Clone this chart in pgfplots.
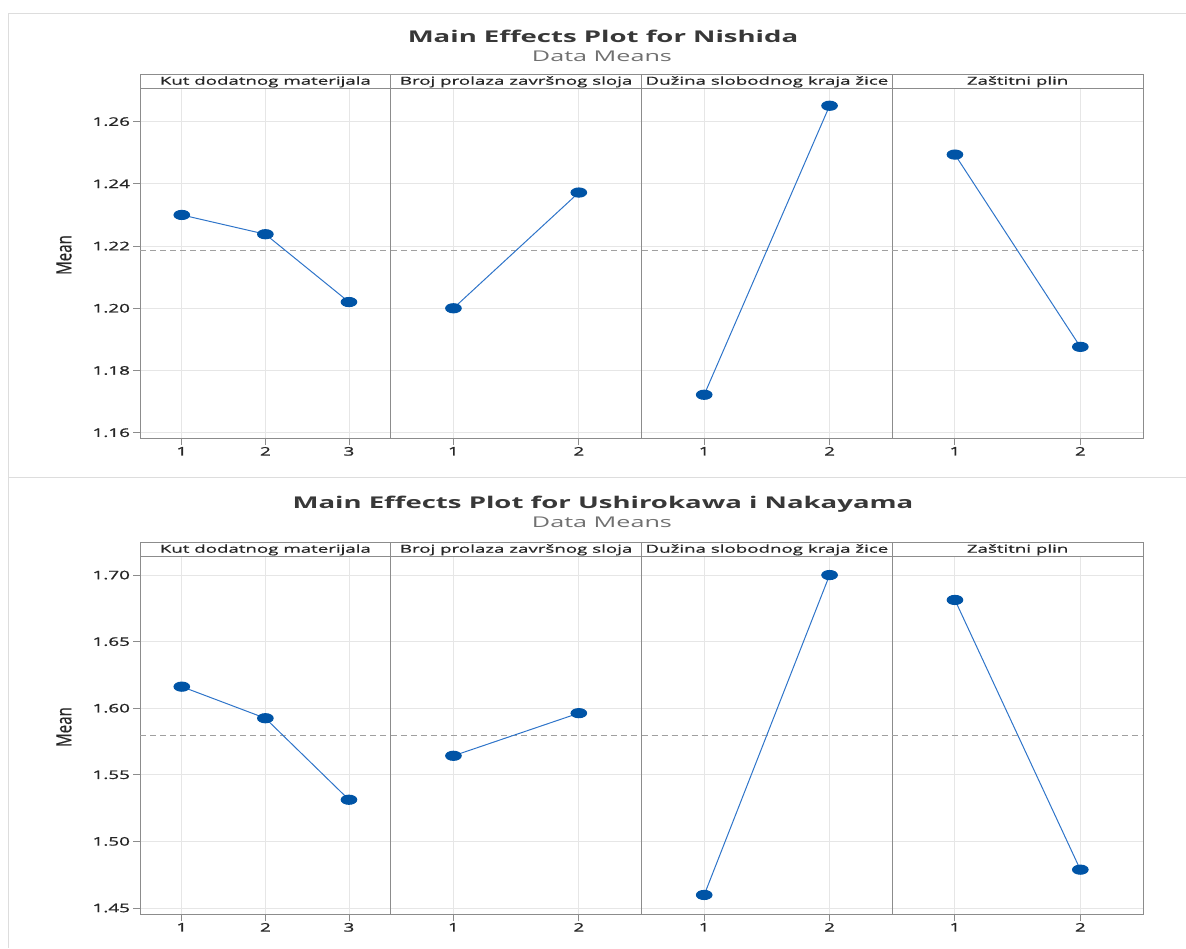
\documentclass[border=0pt]{standalone}
\usepackage{fontspec}
\setmainfont{Open Sans}[FakeStretch=1.7]
\newfontfamily\meanfont{Open Sans}[FakeStretch=0.72, FakeBold=0.6]
\newfontfamily\tickfont{Open Sans}[FakeStretch=1.6, FakeBold=1.3]
\newfontfamily\stripfont{Open Sans}[FakeStretch=1.7, FakeBold=0.7]
\usepackage{pgfplots}
\pgfplotsset{compat=1.18}
\definecolor{axgray}{HTML}{8C8C8C}
\definecolor{gridgray}{HTML}{E6E6E6}
\definecolor{meangray}{HTML}{A0A0A0}
\definecolor{lineblue}{HTML}{2E74C9}
\definecolor{markblue}{HTML}{0054A6}
\definecolor{framegray}{HTML}{DDDDDD}
\definecolor{titlegray}{HTML}{383838}
\definecolor{subgray}{HTML}{707070}
\definecolor{txt}{HTML}{262626}

\pgfplotsset{
  mep/.style={
    scale only axis, width=250.75pt, xmin=0.5,
    clip=false,
    axis line style={draw=axgray, line width=1pt},
    grid=major, major grid style={draw=gridgray, line width=0.9pt},
    tick align=outside, major tick length=7pt,
    tick style={draw=axgray, line width=0.9pt},
    xtick pos=left, ytick pos=left,
    xticklabel style={font=\tickfont\fontsize{11.8}{13}\selectfont, text=txt, yshift=1.5pt},
    yticklabel style={font=\tickfont\fontsize{11.8}{13}\selectfont, text=txt, xshift=0.5pt},
  },
  three/.style={xmax=3.5, xtick={1,2,3}, xticklabels={1,2,3}},
  two/.style={xmax=2.5, xtick={1,2}, xticklabels={1,2}},
  upper/.style={height=350pt, ymin=1.1583, ymax=1.2708,
    ytick={1.16,1.18,1.20,1.22,1.24,1.26},
    yticklabels={1.16,1.18,1.20,1.22,1.24,1.26}},
  lower/.style={height=358pt, ymin=1.4455, ymax=1.7143,
    ytick={1.45,1.50,1.55,1.60,1.65,1.70},
    yticklabels={1.45,1.50,1.55,1.60,1.65,1.70}},
  inner/.style={yticklabels={}, ytick style={draw=none}},
  effect/.style={lineblue, line width=1pt, mark=*, mark size=4.6pt,
    mark options={xscale=1.7, fill=markblue, draw=markblue, solid}},
  meanline/.style={meangray, line width=0.9pt, dash pattern=on 6pt off 4pt, forget plot},
}
\newcommand{\strip}[1]{%
  \draw[axgray, line width=1pt, fill=white] (rel axis cs:0,1) rectangle ([yshift=13.5pt]rel axis cs:1,1);
  \node[anchor=base, font=\stripfont\fontsize{11}{12}\selectfont, text=txt, inner sep=0pt]
    at ([yshift=3.3pt]rel axis cs:0.5,1) {#1};}

\begin{document}
\begin{tikzpicture}[x=1pt,y=1pt]
\path[use as bounding box] (0pt,0pt) rectangle (1186pt,-948pt);
\draw[framegray, line width=1pt] (1186pt,-13pt) -- (8pt,-13pt) -- (8pt,-948pt);
\draw[framegray, line width=1pt] (8pt,-477pt) -- (1186pt,-477pt);

% ---------- Top: Nishida ----------
\node[anchor=base, font=\bfseries\fontsize{16.2}{20}\selectfont, text=titlegray] at (603pt,-42pt) {Main Effects Plot for Nishida};
\node[anchor=base, font=\fontsize{14.8}{17}\selectfont, text=subgray] at (602pt,-61pt) {Data Means};
\node[rotate=90, font=\meanfont\fontsize{21}{24}\selectfont, text=txt] at (64pt,-255pt) {Mean};

\begin{axis}[mep, upper, three, at={(140pt,-438pt)}, anchor=south west]
  \addplot[meanline] coordinates {(0.5,1.2186) (3.5,1.2186)};
  \addplot[effect] coordinates {(1,1.2300) (2,1.2238) (3,1.2020)};
  \strip{Kut dodatnog materijala}
\end{axis}
\begin{axis}[mep, upper, two, inner, at={(390.75pt,-438pt)}, anchor=south west]
  \addplot[meanline] coordinates {(0.5,1.2186) (2.5,1.2186)};
  \addplot[effect] coordinates {(1,1.2000) (2,1.2372)};
  \strip{Broj prolaza završnog sloja}
\end{axis}
\begin{axis}[mep, upper, two, inner, at={(641.5pt,-438pt)}, anchor=south west]
  \addplot[meanline] coordinates {(0.5,1.2186) (2.5,1.2186)};
  \addplot[effect] coordinates {(1,1.1722) (2,1.2651)};
  \strip{Dužina slobodnog kraja žice}
\end{axis}
\begin{axis}[mep, upper, two, inner, at={(892.25pt,-438pt)}, anchor=south west]
  \addplot[meanline] coordinates {(0.5,1.2186) (2.5,1.2186)};
  \addplot[effect] coordinates {(1,1.2494) (2,1.1876)};
  \strip{Zaštitni plin}
\end{axis}

% ---------- Bottom: Ushirokawa i Nakayama ----------
\node[anchor=base, font=\bfseries\fontsize{16.2}{20}\selectfont, text=titlegray] at (603pt,-508pt) {Main Effects Plot for Ushirokawa i Nakayama};
\node[anchor=base, font=\fontsize{14.8}{17}\selectfont, text=subgray] at (602pt,-527pt) {Data Means};
\node[rotate=90, font=\meanfont\fontsize{21}{24}\selectfont, text=txt] at (64pt,-727pt) {Mean};

\begin{axis}[mep, lower, three, at={(140pt,-914pt)}, anchor=south west]
  \addplot[meanline] coordinates {(0.5,1.5799) (3.5,1.5799)};
  \addplot[effect] coordinates {(1,1.6162) (2,1.5925) (3,1.5313)};
  \strip{Kut dodatnog materijala}
\end{axis}
\begin{axis}[mep, lower, two, inner, at={(390.75pt,-914pt)}, anchor=south west]
  \addplot[meanline] coordinates {(0.5,1.5799) (2.5,1.5799)};
  \addplot[effect] coordinates {(1,1.5643) (2,1.5963)};
  \strip{Broj prolaza završnog sloja}
\end{axis}
\begin{axis}[mep, lower, two, inner, at={(641.5pt,-914pt)}, anchor=south west]
  \addplot[meanline] coordinates {(0.5,1.5799) (2.5,1.5799)};
  \addplot[effect] coordinates {(1,1.4598) (2,1.7000)};
  \strip{Dužina slobodnog kraja žice}
\end{axis}
\begin{axis}[mep, lower, two, inner, at={(892.25pt,-914pt)}, anchor=south west]
  \addplot[meanline] coordinates {(0.5,1.5799) (2.5,1.5799)};
  \addplot[effect] coordinates {(1,1.6813) (2,1.4788)};
  \strip{Zaštitni plin}
\end{axis}
\end{tikzpicture}
\end{document}
